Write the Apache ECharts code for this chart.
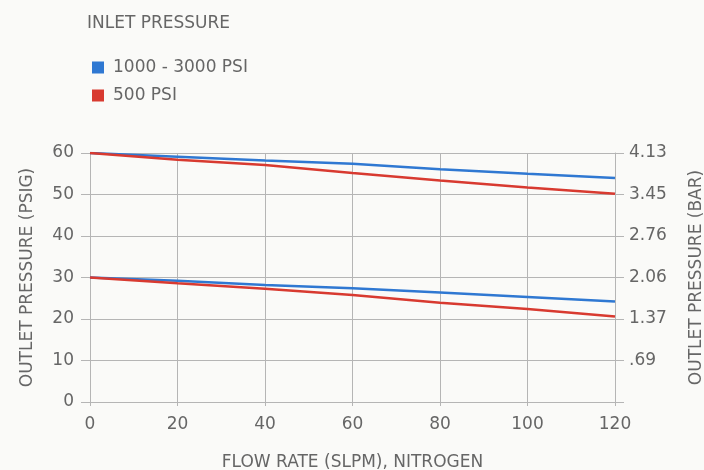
<!DOCTYPE html>
<html>
<head>
<meta charset="utf-8">
<script src="https://cdn.jsdelivr.net/npm/echarts@6/dist/echarts.min.js"></script>
<style>
  html, body { margin: 0; padding: 0; background: #fafaf8; }
  #chart { width: 704px; height: 470px; }
</style>
</head>
<body>
<div id="chart"></div>
<script>
const myChart = echarts.init(document.getElementById('chart'));

// flow rate (SLPM) sample points
const flowRate = [0, 20, 40, 60, 80, 100, 120];
// outlet pressure (PSIG), 60 psig setting
const high60 = [60, 59.1, 58.2, 57.4, 56.1, 55.0, 54.0];
const low60 = [60, 58.4, 57.1, 55.2, 53.4, 51.7, 50.2];
// outlet pressure (PSIG), 30 psig setting
const high30 = [30, 29.2, 28.2, 27.4, 26.4, 25.3, 24.2];
const low30 = [30, 28.6, 27.3, 25.8, 23.9, 22.4, 20.6];
// right axis tick labels (bar)
const barLabels = ['', '.69', '1.37', '2.06', '2.76', '3.45', '4.13'];

const seriesNames = ['1000 - 3000 PSI', '500 PSI'];
const blue = '#2f78d2';
const red = '#d83a30';
const textColor = '#666666';
const gridColor = '#b5b5b5';
const font = 'DejaVu Sans';

function pairs(ys) {
  return flowRate.map(function (x, i) { return [x, ys[i]]; });
}

function makeLine(name, color, ys) {
  return {
    name: name,
    type: 'line',
    data: pairs(ys),
    symbol: 'none',
    lineStyle: { color: color, width: 2.5 },
    itemStyle: { color: color },
    yAxisIndex: 0
  };
}

const option = {
  backgroundColor: '#fafaf8',
  animation: false,
  textStyle: { fontFamily: font },
  title: {
    text: 'INLET PRESSURE',
    left: 82,
    top: 10,
    textStyle: { fontSize: 17, fontWeight: 'normal', color: textColor, fontFamily: font }
  },
  legend: {
    data: seriesNames,
    orient: 'vertical',
    left: 87,
    top: 54,
    itemGap: 11,
    itemWidth: 12,
    itemHeight: 12,
    icon: 'rect',
    textStyle: { fontSize: 17, color: textColor, fontFamily: font, padding: [0, 0, 0, 4] }
  },
  grid: { left: 90, right: 89, top: 153, bottom: 68, outerBoundsMode: 'none', containLabel: false },
  xAxis: {
    type: 'value',
    min: 0,
    max: 120,
    interval: 20,
    name: 'FLOW RATE (SLPM), NITROGEN',
    nameLocation: 'middle',
    nameGap: 52,
    nameTextStyle: { fontSize: 17, color: textColor },
    axisLine: { show: true, lineStyle: { color: gridColor } },
    axisTick: { show: true, length: 4, lineStyle: { color: gridColor } },
    axisLabel: { fontSize: 17, color: textColor, margin: 14 },
    splitLine: { show: true, lineStyle: { color: gridColor } }
  },
  yAxis: [{
    type: 'value',
    position: 'left',
    min: 0,
    max: 60,
    interval: 10,
    name: 'OUTLET PRESSURE (PSIG)',
    nameLocation: 'middle',
    nameRotate: 90,
    nameGap: 54,
    nameTextStyle: { fontSize: 17, color: textColor },
    axisLine: { show: true, lineStyle: { color: gridColor } },
    axisTick: { show: true, length: 9, lineStyle: { color: gridColor } },
    axisLabel: { fontSize: 17, color: textColor, margin: 16 },
    splitLine: { show: true, lineStyle: { color: gridColor } }
  }, {
    type: 'value',
    position: 'right',
    min: 0,
    max: 60,
    interval: 10,
    name: 'OUTLET PRESSURE (BAR)',
    nameLocation: 'middle',
    nameRotate: 90,
    nameGap: 73,
    nameTextStyle: { fontSize: 17, color: textColor },
    axisLine: { show: true, lineStyle: { color: gridColor } },
    axisTick: { show: true, length: 9, lineStyle: { color: gridColor } },
    axisLabel: {
      fontSize: 17,
      color: textColor,
      margin: 14,
      formatter: function (v) { return barLabels[Math.round(v / 10)]; }
    },
    splitLine: { show: false }
  }],
  series: [
    makeLine(seriesNames[0], blue, high60),
    makeLine(seriesNames[1], red, low60),
    makeLine(seriesNames[0], blue, high30),
    makeLine(seriesNames[1], red, low30)
  ]
};
myChart.setOption(option);
</script>
</body>
</html>
